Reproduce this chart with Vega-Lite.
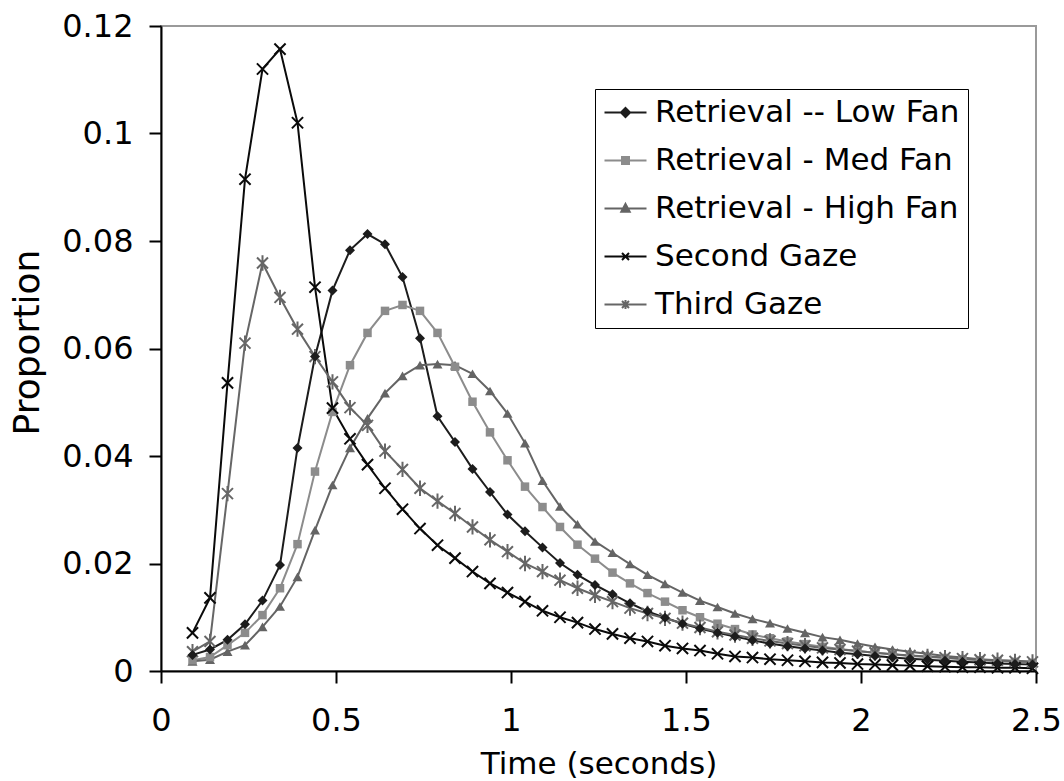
{
"$schema": "https://vega.github.io/schema/vega-lite/v6.json",
"width": 875,
"height": 645,
"autosize": {"type": "none"},
"padding": {"left": 161, "top": 26, "right": 28, "bottom": 110},
"background": "white",
"config": {
  "view": {"stroke": "#9a9a9a", "strokeWidth": 2},
  "font": "DejaVu Sans",
  "axis": {"grid": false, "domainColor": "black", "domainWidth": 2, "tickColor": "black", "tickWidth": 2, "tickSize": 12, "labelColor": "black", "labelFont": "DejaVu Sans", "labelFontSize": 32, "titleFont": "DejaVu Sans", "titleFontWeight": "normal", "titleColor": "black", "labelFlush": false, "labelOverlap": false, "labelBound": false}
},
"data": {"values": [
{"series":"Retrieval -- Low Fan","t":0.09,"p":0.0030},{"series":"Retrieval -- Low Fan","t":0.14,"p":0.0040},{"series":"Retrieval -- Low Fan","t":0.19,"p":0.0058},{"series":"Retrieval -- Low Fan","t":0.24,"p":0.0087},{"series":"Retrieval -- Low Fan","t":0.29,"p":0.0131},{"series":"Retrieval -- Low Fan","t":0.34,"p":0.0197},{"series":"Retrieval -- Low Fan","t":0.39,"p":0.0415},{"series":"Retrieval -- Low Fan","t":0.44,"p":0.0585},{"series":"Retrieval -- Low Fan","t":0.49,"p":0.0708},{"series":"Retrieval -- Low Fan","t":0.54,"p":0.0783},{"series":"Retrieval -- Low Fan","t":0.59,"p":0.0813},{"series":"Retrieval -- Low Fan","t":0.64,"p":0.0794},{"series":"Retrieval -- Low Fan","t":0.69,"p":0.0733},{"series":"Retrieval -- Low Fan","t":0.74,"p":0.0619},{"series":"Retrieval -- Low Fan","t":0.79,"p":0.0474},{"series":"Retrieval -- Low Fan","t":0.84,"p":0.0426},{"series":"Retrieval -- Low Fan","t":0.89,"p":0.0376},{"series":"Retrieval -- Low Fan","t":0.94,"p":0.0333},{"series":"Retrieval -- Low Fan","t":0.99,"p":0.0291},{"series":"Retrieval -- Low Fan","t":1.04,"p":0.0260},{"series":"Retrieval -- Low Fan","t":1.09,"p":0.0230},{"series":"Retrieval -- Low Fan","t":1.14,"p":0.0201},{"series":"Retrieval -- Low Fan","t":1.19,"p":0.0179},{"series":"Retrieval -- Low Fan","t":1.24,"p":0.0160},{"series":"Retrieval -- Low Fan","t":1.29,"p":0.0143},{"series":"Retrieval -- Low Fan","t":1.34,"p":0.0126},{"series":"Retrieval -- Low Fan","t":1.39,"p":0.0111},{"series":"Retrieval -- Low Fan","t":1.44,"p":0.0099},{"series":"Retrieval -- Low Fan","t":1.49,"p":0.0088},{"series":"Retrieval -- Low Fan","t":1.54,"p":0.0079},{"series":"Retrieval -- Low Fan","t":1.59,"p":0.0071},{"series":"Retrieval -- Low Fan","t":1.64,"p":0.0064},{"series":"Retrieval -- Low Fan","t":1.69,"p":0.0057},{"series":"Retrieval -- Low Fan","t":1.74,"p":0.0051},{"series":"Retrieval -- Low Fan","t":1.79,"p":0.0046},{"series":"Retrieval -- Low Fan","t":1.84,"p":0.0042},{"series":"Retrieval -- Low Fan","t":1.89,"p":0.0038},{"series":"Retrieval -- Low Fan","t":1.94,"p":0.0034},{"series":"Retrieval -- Low Fan","t":1.99,"p":0.0031},{"series":"Retrieval -- Low Fan","t":2.04,"p":0.0028},{"series":"Retrieval -- Low Fan","t":2.09,"p":0.0025},{"series":"Retrieval -- Low Fan","t":2.14,"p":0.0023},{"series":"Retrieval -- Low Fan","t":2.19,"p":0.0021},{"series":"Retrieval -- Low Fan","t":2.24,"p":0.0019},{"series":"Retrieval -- Low Fan","t":2.29,"p":0.0017},{"series":"Retrieval -- Low Fan","t":2.34,"p":0.0016},{"series":"Retrieval -- Low Fan","t":2.39,"p":0.0014},{"series":"Retrieval -- Low Fan","t":2.44,"p":0.0013},{"series":"Retrieval -- Low Fan","t":2.49,"p":0.0012},
{"series":"Retrieval - Med Fan","t":0.09,"p":0.0020},{"series":"Retrieval - Med Fan","t":0.14,"p":0.0026},{"series":"Retrieval - Med Fan","t":0.19,"p":0.0048},{"series":"Retrieval - Med Fan","t":0.24,"p":0.0071},{"series":"Retrieval - Med Fan","t":0.29,"p":0.0104},{"series":"Retrieval - Med Fan","t":0.34,"p":0.0154},{"series":"Retrieval - Med Fan","t":0.39,"p":0.0236},{"series":"Retrieval - Med Fan","t":0.44,"p":0.0371},{"series":"Retrieval - Med Fan","t":0.49,"p":0.0482},{"series":"Retrieval - Med Fan","t":0.54,"p":0.0569},{"series":"Retrieval - Med Fan","t":0.59,"p":0.0629},{"series":"Retrieval - Med Fan","t":0.64,"p":0.0670},{"series":"Retrieval - Med Fan","t":0.69,"p":0.0681},{"series":"Retrieval - Med Fan","t":0.74,"p":0.0670},{"series":"Retrieval - Med Fan","t":0.79,"p":0.0629},{"series":"Retrieval - Med Fan","t":0.84,"p":0.0566},{"series":"Retrieval - Med Fan","t":0.89,"p":0.0501},{"series":"Retrieval - Med Fan","t":0.94,"p":0.0444},{"series":"Retrieval - Med Fan","t":0.99,"p":0.0392},{"series":"Retrieval - Med Fan","t":1.04,"p":0.0343},{"series":"Retrieval - Med Fan","t":1.09,"p":0.0305},{"series":"Retrieval - Med Fan","t":1.14,"p":0.0268},{"series":"Retrieval - Med Fan","t":1.19,"p":0.0235},{"series":"Retrieval - Med Fan","t":1.24,"p":0.0209},{"series":"Retrieval - Med Fan","t":1.29,"p":0.0183},{"series":"Retrieval - Med Fan","t":1.34,"p":0.0163},{"series":"Retrieval - Med Fan","t":1.39,"p":0.0145},{"series":"Retrieval - Med Fan","t":1.44,"p":0.0129},{"series":"Retrieval - Med Fan","t":1.49,"p":0.0113},{"series":"Retrieval - Med Fan","t":1.54,"p":0.0100},{"series":"Retrieval - Med Fan","t":1.59,"p":0.0088},{"series":"Retrieval - Med Fan","t":1.64,"p":0.0078},{"series":"Retrieval - Med Fan","t":1.69,"p":0.0068},{"series":"Retrieval - Med Fan","t":1.74,"p":0.0061},{"series":"Retrieval - Med Fan","t":1.79,"p":0.0055},{"series":"Retrieval - Med Fan","t":1.84,"p":0.0050},{"series":"Retrieval - Med Fan","t":1.89,"p":0.0045},{"series":"Retrieval - Med Fan","t":1.94,"p":0.0041},{"series":"Retrieval - Med Fan","t":1.99,"p":0.0037},{"series":"Retrieval - Med Fan","t":2.04,"p":0.0034},{"series":"Retrieval - Med Fan","t":2.09,"p":0.0031},{"series":"Retrieval - Med Fan","t":2.14,"p":0.0028},{"series":"Retrieval - Med Fan","t":2.19,"p":0.0026},{"series":"Retrieval - Med Fan","t":2.24,"p":0.0024},{"series":"Retrieval - Med Fan","t":2.29,"p":0.0022},{"series":"Retrieval - Med Fan","t":2.34,"p":0.0020},{"series":"Retrieval - Med Fan","t":2.39,"p":0.0018},{"series":"Retrieval - Med Fan","t":2.44,"p":0.0017},{"series":"Retrieval - Med Fan","t":2.49,"p":0.0015},
{"series":"Retrieval - High Fan","t":0.09,"p":0.0018},{"series":"Retrieval - High Fan","t":0.14,"p":0.0021},{"series":"Retrieval - High Fan","t":0.19,"p":0.0036},{"series":"Retrieval - High Fan","t":0.24,"p":0.0048},{"series":"Retrieval - High Fan","t":0.29,"p":0.0082},{"series":"Retrieval - High Fan","t":0.34,"p":0.0120},{"series":"Retrieval - High Fan","t":0.39,"p":0.0175},{"series":"Retrieval - High Fan","t":0.44,"p":0.0262},{"series":"Retrieval - High Fan","t":0.49,"p":0.0346},{"series":"Retrieval - High Fan","t":0.54,"p":0.0415},{"series":"Retrieval - High Fan","t":0.59,"p":0.0470},{"series":"Retrieval - High Fan","t":0.64,"p":0.0517},{"series":"Retrieval - High Fan","t":0.69,"p":0.0549},{"series":"Retrieval - High Fan","t":0.74,"p":0.0569},{"series":"Retrieval - High Fan","t":0.79,"p":0.0571},{"series":"Retrieval - High Fan","t":0.84,"p":0.0569},{"series":"Retrieval - High Fan","t":0.89,"p":0.0553},{"series":"Retrieval - High Fan","t":0.94,"p":0.0521},{"series":"Retrieval - High Fan","t":0.99,"p":0.0479},{"series":"Retrieval - High Fan","t":1.04,"p":0.0424},{"series":"Retrieval - High Fan","t":1.09,"p":0.0354},{"series":"Retrieval - High Fan","t":1.14,"p":0.0306},{"series":"Retrieval - High Fan","t":1.19,"p":0.0273},{"series":"Retrieval - High Fan","t":1.24,"p":0.0241},{"series":"Retrieval - High Fan","t":1.29,"p":0.0220},{"series":"Retrieval - High Fan","t":1.34,"p":0.0199},{"series":"Retrieval - High Fan","t":1.39,"p":0.0179},{"series":"Retrieval - High Fan","t":1.44,"p":0.0162},{"series":"Retrieval - High Fan","t":1.49,"p":0.0146},{"series":"Retrieval - High Fan","t":1.54,"p":0.0131},{"series":"Retrieval - High Fan","t":1.59,"p":0.0119},{"series":"Retrieval - High Fan","t":1.64,"p":0.0107},{"series":"Retrieval - High Fan","t":1.69,"p":0.0097},{"series":"Retrieval - High Fan","t":1.74,"p":0.0089},{"series":"Retrieval - High Fan","t":1.79,"p":0.0079},{"series":"Retrieval - High Fan","t":1.84,"p":0.0071},{"series":"Retrieval - High Fan","t":1.89,"p":0.0063},{"series":"Retrieval - High Fan","t":1.94,"p":0.0058},{"series":"Retrieval - High Fan","t":1.99,"p":0.0051},{"series":"Retrieval - High Fan","t":2.04,"p":0.0045},{"series":"Retrieval - High Fan","t":2.09,"p":0.0040},{"series":"Retrieval - High Fan","t":2.14,"p":0.0036},{"series":"Retrieval - High Fan","t":2.19,"p":0.0032},{"series":"Retrieval - High Fan","t":2.24,"p":0.0028},{"series":"Retrieval - High Fan","t":2.29,"p":0.0025},{"series":"Retrieval - High Fan","t":2.34,"p":0.0022},{"series":"Retrieval - High Fan","t":2.39,"p":0.0020},{"series":"Retrieval - High Fan","t":2.44,"p":0.0019},{"series":"Retrieval - High Fan","t":2.49,"p":0.0017},
{"series":"Second Gaze","t":0.09,"p":0.0071},{"series":"Second Gaze","t":0.14,"p":0.0136},{"series":"Second Gaze","t":0.19,"p":0.0536},{"series":"Second Gaze","t":0.24,"p":0.0915},{"series":"Second Gaze","t":0.29,"p":0.1120},{"series":"Second Gaze","t":0.34,"p":0.1157},{"series":"Second Gaze","t":0.39,"p":0.1020},{"series":"Second Gaze","t":0.44,"p":0.0714},{"series":"Second Gaze","t":0.49,"p":0.0489},{"series":"Second Gaze","t":0.54,"p":0.0432},{"series":"Second Gaze","t":0.59,"p":0.0384},{"series":"Second Gaze","t":0.64,"p":0.0340},{"series":"Second Gaze","t":0.69,"p":0.0301},{"series":"Second Gaze","t":0.74,"p":0.0265},{"series":"Second Gaze","t":0.79,"p":0.0234},{"series":"Second Gaze","t":0.84,"p":0.0210},{"series":"Second Gaze","t":0.89,"p":0.0185},{"series":"Second Gaze","t":0.94,"p":0.0163},{"series":"Second Gaze","t":0.99,"p":0.0146},{"series":"Second Gaze","t":1.04,"p":0.0129},{"series":"Second Gaze","t":1.09,"p":0.0112},{"series":"Second Gaze","t":1.14,"p":0.0100},{"series":"Second Gaze","t":1.19,"p":0.0090},{"series":"Second Gaze","t":1.24,"p":0.0078},{"series":"Second Gaze","t":1.29,"p":0.0069},{"series":"Second Gaze","t":1.34,"p":0.0061},{"series":"Second Gaze","t":1.39,"p":0.0055},{"series":"Second Gaze","t":1.44,"p":0.0047},{"series":"Second Gaze","t":1.49,"p":0.0042},{"series":"Second Gaze","t":1.54,"p":0.0038},{"series":"Second Gaze","t":1.59,"p":0.0032},{"series":"Second Gaze","t":1.64,"p":0.0027},{"series":"Second Gaze","t":1.69,"p":0.0025},{"series":"Second Gaze","t":1.74,"p":0.0022},{"series":"Second Gaze","t":1.79,"p":0.0020},{"series":"Second Gaze","t":1.84,"p":0.0018},{"series":"Second Gaze","t":1.89,"p":0.0016},{"series":"Second Gaze","t":1.94,"p":0.0015},{"series":"Second Gaze","t":1.99,"p":0.0013},{"series":"Second Gaze","t":2.04,"p":0.0012},{"series":"Second Gaze","t":2.09,"p":0.0011},{"series":"Second Gaze","t":2.14,"p":0.0010},{"series":"Second Gaze","t":2.19,"p":0.0009},{"series":"Second Gaze","t":2.24,"p":0.0008},{"series":"Second Gaze","t":2.29,"p":0.0007},{"series":"Second Gaze","t":2.34,"p":0.0007},{"series":"Second Gaze","t":2.39,"p":0.0006},{"series":"Second Gaze","t":2.44,"p":0.0006},{"series":"Second Gaze","t":2.49,"p":0.0005},
{"series":"Third Gaze","t":0.09,"p":0.0036},{"series":"Third Gaze","t":0.14,"p":0.0055},{"series":"Third Gaze","t":0.19,"p":0.0330},{"series":"Third Gaze","t":0.24,"p":0.0610},{"series":"Third Gaze","t":0.29,"p":0.0759},{"series":"Third Gaze","t":0.34,"p":0.0695},{"series":"Third Gaze","t":0.39,"p":0.0636},{"series":"Third Gaze","t":0.44,"p":0.0585},{"series":"Third Gaze","t":0.49,"p":0.0538},{"series":"Third Gaze","t":0.54,"p":0.0490},{"series":"Third Gaze","t":0.59,"p":0.0457},{"series":"Third Gaze","t":0.64,"p":0.0409},{"series":"Third Gaze","t":0.69,"p":0.0375},{"series":"Third Gaze","t":0.74,"p":0.0340},{"series":"Third Gaze","t":0.79,"p":0.0316},{"series":"Third Gaze","t":0.84,"p":0.0293},{"series":"Third Gaze","t":0.89,"p":0.0268},{"series":"Third Gaze","t":0.94,"p":0.0244},{"series":"Third Gaze","t":0.99,"p":0.0222},{"series":"Third Gaze","t":1.04,"p":0.0200},{"series":"Third Gaze","t":1.09,"p":0.0185},{"series":"Third Gaze","t":1.14,"p":0.0169},{"series":"Third Gaze","t":1.19,"p":0.0154},{"series":"Third Gaze","t":1.24,"p":0.0141},{"series":"Third Gaze","t":1.29,"p":0.0129},{"series":"Third Gaze","t":1.34,"p":0.0117},{"series":"Third Gaze","t":1.39,"p":0.0107},{"series":"Third Gaze","t":1.44,"p":0.0098},{"series":"Third Gaze","t":1.49,"p":0.0089},{"series":"Third Gaze","t":1.54,"p":0.0081},{"series":"Third Gaze","t":1.59,"p":0.0073},{"series":"Third Gaze","t":1.64,"p":0.0067},{"series":"Third Gaze","t":1.69,"p":0.0061},{"series":"Third Gaze","t":1.74,"p":0.0056},{"series":"Third Gaze","t":1.79,"p":0.0051},{"series":"Third Gaze","t":1.84,"p":0.0047},{"series":"Third Gaze","t":1.89,"p":0.0043},{"series":"Third Gaze","t":1.94,"p":0.0040},{"series":"Third Gaze","t":1.99,"p":0.0037},{"series":"Third Gaze","t":2.04,"p":0.0034},{"series":"Third Gaze","t":2.09,"p":0.0031},{"series":"Third Gaze","t":2.14,"p":0.0029},{"series":"Third Gaze","t":2.19,"p":0.0027},{"series":"Third Gaze","t":2.24,"p":0.0025},{"series":"Third Gaze","t":2.29,"p":0.0023},{"series":"Third Gaze","t":2.34,"p":0.0021},{"series":"Third Gaze","t":2.39,"p":0.0020},{"series":"Third Gaze","t":2.44,"p":0.0018},{"series":"Third Gaze","t":2.49,"p":0.0017}
]},
"encoding": {
  "x": {"field": "t", "type": "quantitative", "scale": {"domain": [0, 2.5], "nice": false, "zero": false},
        "axis": {"values": [0, 0.5, 1, 1.5, 2, 2.5], "labelExpr": "datum.value + ''", "labelPadding": 22, "title": "Time (seconds)", "titleFontSize": 31, "titleY": 102, "titleBaseline": "alphabetic"}},
  "y": {"field": "p", "type": "quantitative", "scale": {"domain": [0, 0.12], "nice": false},
        "axis": {"values": [0, 0.02, 0.04, 0.06, 0.08, 0.1, 0.12], "labelExpr": "datum.value + ''", "labelPadding": 16, "title": "Proportion", "titleFontSize": 36, "titleX": -123, "titleY": 316, "titleBaseline": "alphabetic"}}
},
"layer": [
  {"mark": {"type": "line", "strokeWidth": 2},
   "encoding": {
     "color": {"field": "series", "type": "nominal", "scale": {"domain": ["Retrieval -- Low Fan", "Retrieval - Med Fan", "Retrieval - High Fan", "Second Gaze", "Third Gaze"], "range": ["#1c1c1c", "#8c8c8c", "#646464", "#0a0a0a", "#666666"]},
       "legend": {"title": null, "orient": "none", "legendX": 434, "legendY": 63, "padding": 8, "strokeColor": "black", "fillColor": "white",
         "labelFont": "DejaVu Sans", "labelFontSize": 31, "labelColor": "black", "labelLimit": 0, "symbolSize": 49, "symbolOffset": 7, "labelOffset": 14, "rowPadding": 16, "symbolStrokeWidth": 2,
         "symbolType": {"expr": "datum.value === 'Retrieval -- Low Fan' ? 'M-6,0L6,0M0,-1.3L1.3,0L0,1.3L-1.3,0Z' : datum.value === 'Retrieval - Med Fan' ? 'M-6,0L6,0M-1,-1L1,-1L1,1L-1,1Z' : datum.value === 'Retrieval - High Fan' ? 'M-6,0L6,0M0,-1.3L1.2,0.9L-1.2,0.9Z' : datum.value === 'Second Gaze' ? 'M-6,0L6,0M-1,-1L1,1M-1,1L1,-1' : 'M-6,0L6,0M-1,-1L1,1M-1,1L1,-1M0,-1.3L0,1.3'"},
         "symbolFillColor": {"expr": "datum.value === 'Retrieval -- Low Fan' ? '#1c1c1c' : datum.value === 'Retrieval - Med Fan' ? '#8c8c8c' : datum.value === 'Retrieval - High Fan' ? '#646464' : 'transparent'"}
       }}
   }},
  {"transform": [{"filter": "datum.series === 'Retrieval - High Fan'"}],
   "mark": {"type": "point", "filled": true, "opacity": 1, "size": 100, "shape": "triangle-up", "color": "#646464"}},
  {"transform": [{"filter": "datum.series === 'Retrieval - Med Fan'"}],
   "mark": {"type": "point", "filled": true, "opacity": 1, "size": 72, "shape": "square", "color": "#8c8c8c"}},
  {"transform": [{"filter": "datum.series === 'Third Gaze'"}],
   "mark": {"type": "point", "filled": false, "opacity": 1, "size": 120, "strokeWidth": 2, "shape": "M-1,-1L1,1M-1,1L1,-1M0,-1.4L0,1.4", "color": "#666666"}},
  {"transform": [{"filter": "datum.series === 'Second Gaze'"}],
   "mark": {"type": "point", "filled": false, "opacity": 1, "size": 125, "strokeWidth": 2, "shape": "M-1,-1L1,1M-1,1L1,-1", "color": "#0a0a0a"}},
  {"transform": [{"filter": "datum.series === 'Retrieval -- Low Fan'"}],
   "mark": {"type": "point", "filled": true, "opacity": 1, "size": 100, "shape": "diamond", "color": "#1c1c1c"}}
]
}
